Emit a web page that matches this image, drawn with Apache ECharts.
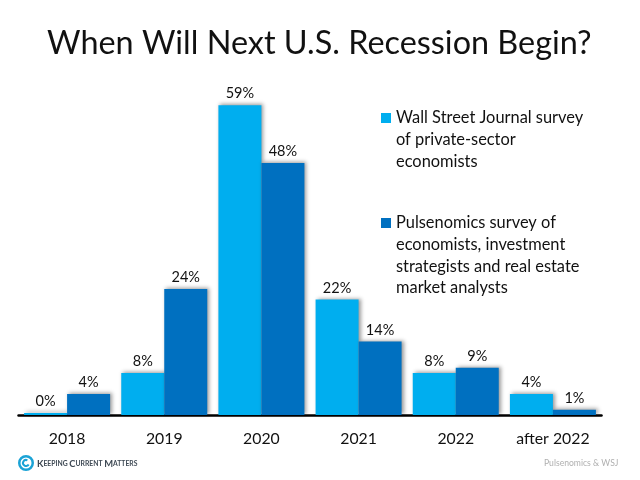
<!DOCTYPE html>
<html><head><meta charset="utf-8">
<style>html,body{margin:0;padding:0;background:#fff}#c{width:640px;height:480px}</style>
<script src="https://cdn.jsdelivr.net/npm/echarts@6/dist/echarts.min.js"></script>
</head><body><div id="c"></div>
<script>
const categories = ['2018','2019','2020','2021','2022','after 2022'];
const wsjName = 'Wall Street Journal survey\nof private-sector\neconomists';
const pulseName = 'Pulsenomics survey of\neconomists, investment\nstrategists and real estate\nmarket analysts';
const wsjValues = [0,8,59,22,8,4];
const pulseValues = [4,24,48,14,9,1];
const titleText = 'When Will Next U.S. Recession Begin?';
const sourceText = 'Pulsenomics & WSJ';
const FONT = 'Lato, "Open Sans", sans-serif';
const LIGHT = '#00AEEF', DARK = '#0070C0';

function mkSeries(name, data, color){
  return {
    name, type:'bar', data, barWidth:43, barGap:0, barMinHeight:2,
    itemStyle:{color, shadowColor:'rgba(0,0,0,0.4)', shadowBlur:4, shadowOffsetX:2, shadowOffsetY:-1},
    label:{show:true, position:'top', distance:4, formatter:'{c}%', color:'#111', fontFamily:FONT, fontSize:14.5}
  };
}
function mkLegend(name, top, lineCount){
  const h = lineCount*21.7;
  return {
    data:[{name, icon:`path://M0 0L0.01 0M0 6H10V16H0ZM0 ${h}L0.01 ${h}`}],
    left:381, top, orient:'vertical', itemWidth:10, itemHeight:h, itemGap:0, padding:0,
    selectedMode:false,
    textStyle:{color:'#111', fontFamily:FONT, fontSize:16.4, lineHeight:21.7, padding:[0,0,0,0]}
  };
}
const chart = echarts.init(document.getElementById('c'), null, {renderer:'canvas'});
chart.setOption({
  backgroundColor:'#fff', animation:false,
  title:[
    {text:titleText, left:47, top:28, padding:0, textStyle:{color:'#111', fontFamily:FONT, fontWeight:'normal', fontSize:32.4}},
    {text:sourceText, left:544, top:459, padding:0, textStyle:{color:'#b0b0b0', fontFamily:FONT, fontWeight:'normal', fontSize:8.6}},
    {text:'{b|K}{s|EEPING }{b|C}{s|URRENT }{b|M}{s|ATTERS}', left:37, top:459, padding:0,
     textStyle:{rich:{
       b:{fontFamily:FONT, fontSize:9.4, fontWeight:'bold', color:'#3f4a55'},
       s:{fontFamily:FONT, fontSize:6.8, fontWeight:'bold', color:'#3f4a55'}}}}
  ],
  legend:[mkLegend(wsjName,107,3), mkLegend(pulseName,212,4)],
  grid:{left:18.5, right:38.5, top:100, bottom:65},
  xAxis:{type:'category', data:categories,
    axisTick:{show:false},
    axisLine:{lineStyle:{color:'#000', width:2.5}},
    axisLabel:{color:'#111', fontFamily:FONT, fontSize:15.8, margin:16, interval:0}},
  yAxis:{type:'value', min:0, max:60, show:false, splitLine:{show:false}},
  series:[mkSeries(wsjName,wsjValues,LIGHT), mkSeries(pulseName,pulseValues,DARK)],
  graphic:[
    {type:'ring', shape:{cx:26,cy:463,r:8,r0:5.5}, style:{fill:'#1BA3D6'}},
    {type:'arc', shape:{cx:26,cy:463,r:3,startAngle:0.5,endAngle:5.2}, style:{stroke:'#1BA3D6',lineWidth:2,fill:null}}
  ]
});
</script></body></html>
